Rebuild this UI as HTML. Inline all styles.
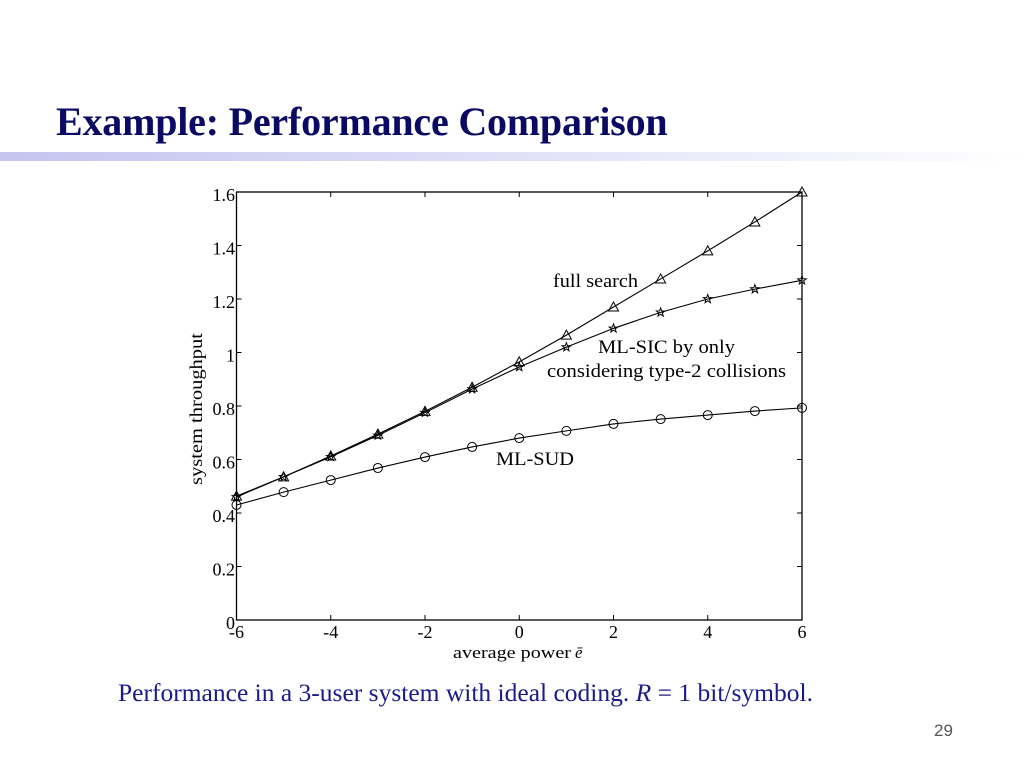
<!DOCTYPE html>
<html><head><meta charset="utf-8"><style>
body{margin:0;width:1024px;height:768px;background:#fff;position:relative;overflow:hidden;font-family:"Liberation Serif",serif}
.t{position:absolute;white-space:nowrap}
</style></head><body>
<div class="t" style="left:56px;top:98px;font-size:40px;font-weight:bold;color:#0a0a64;letter-spacing:-0.2px">Example: Performance Comparison</div>
<div class="t" style="left:0;top:152px;width:1024px;height:9px;background:linear-gradient(to right,#c4c4f0,#e0e0f8 50%,#ffffff)"></div>
<svg class="t" style="left:0;top:0" width="1024" height="768" font-family="Liberation Serif, serif">
<g id="g"></g>
</svg>
<div class="t" style="left:118px;top:678px;font-size:25.5px;color:#1a1a8c">Performance in a 3-user system with ideal coding. <i>R</i> = 1 bit/symbol.</div>
<div class="t" style="left:934px;top:721px;font-size:17px;color:#555;font-family:'Liberation Sans',sans-serif">29</div>
<script>
const xs=[-6,-5,-4,-3,-2,-1,0,1,2,3,4,5,6];
const fullSearch=[0.463,0.535,0.613,0.695,0.78,0.87,0.965,1.065,1.17,1.275,1.38,1.488,1.6];
const mlSic=[0.46,0.535,0.61,0.69,0.775,0.863,0.946,1.02,1.09,1.15,1.2,1.237,1.27];
const mlSud=[0.43,0.478,0.523,0.568,0.609,0.647,0.68,0.707,0.733,0.751,0.766,0.781,0.793];
const xTicks=[-6,-4,-2,0,2,4,6];
const yTicks=[0,0.2,0.4,0.6,0.8,1,1.2,1.4,1.6];
const yLabels=["0","0.2","0.4","0.6","0.8","1","1.2","1.4","1.6"];
const L=236.5,R=802,T=192,B=620;
const X=v=>L+(v+6)/12*(R-L), Y=v=>B-v/1.6*(B-T);
const g=document.getElementById('g');const NS='http://www.w3.org/2000/svg';
function mk(t,a,name){const e=document.createElementNS(NS,t);for(const k in a)e.setAttribute(k,a[k]);


g.appendChild(e);return e;}
mk('rect',{x:L,y:T,width:R-L,height:B-T,fill:'none',stroke:'#000','stroke-width':1.3},'plot-frame');
xTicks.forEach((v,i)=>{mk('line',{x1:X(v),x2:X(v),y1:B,y2:B-5,stroke:'#000'},'x-tick');mk('line',{x1:X(v),x2:X(v),y1:T,y2:T+5,stroke:'#000'},'x-tick-top');
const t=mk('text',{x:X(v),y:B+18,'font-size':18,'text-anchor':'middle'},'x-tick-label');t.textContent=v;});
yTicks.forEach((v,i)=>{mk('line',{x1:L,x2:L+5,y1:Y(v),y2:Y(v),stroke:'#000'},'y-tick');mk('line',{x1:R,x2:R-5,y1:Y(v),y2:Y(v),stroke:'#000'},'y-tick-right');
const t=mk('text',{x:L-1.5,y:Y(v)+9,'font-size':18,'text-anchor':'end'},'y-tick-label');t.textContent=yLabels[i];});
function series(d,name,marker){mk('polyline',{points:xs.map((x,i)=>X(x)+','+Y(d[i])).join(' '),fill:'none',stroke:'#000','stroke-width':1.1},name+'-line');
xs.forEach((x,i)=>{const cx=X(x),cy=Y(d[i]);
if(marker==='o')mk('circle',{cx,cy,r:4.5,fill:'none',stroke:'#000'},name+'-point');
else if(marker==='^')mk('polygon',{points:`${cx},${cy-5} ${cx-5},${cy+4} ${cx+5},${cy+4}`,fill:'none',stroke:'#000'},name+'-point');
else{let p=[];for(let k=0;k<10;k++){const r=k%2?1.8:4.5,a=-Math.PI/2+k*Math.PI/5;p.push((cx+r*Math.cos(a))+','+(cy+r*Math.sin(a)));}
mk('polygon',{points:p.join(' '),fill:'none',stroke:'#000'},name+'-point');}});}
series(mlSud,'ml-sud','o');series(mlSic,'ml-sic','*');series(fullSearch,'full-search','^');
function txt(x,y,s,name,extra){const t=mk('text',Object.assign({x,y,'font-size':19,lengthAdjust:'spacingAndGlyphs'},extra||{}),name);t.textContent=s;return t;}
txt(553,287,'full search','full-search-label',{textLength:85});
txt(598,353,'ML-SIC by only','ml-sic-label',{textLength:137});
txt(547,377,'considering type-2 collisions','ml-sic-label-2',{textLength:239});
txt(496,465,'ML-SUD','ml-sud-label',{textLength:78});
txt(453,658,'average power','x-axis-title',{textLength:118,'font-size':17});
txt(575,658,'e\u0304','x-axis-var',{'font-size':17,'font-style':'italic'});
txt(0,0,'system throughput','y-axis-title',{'font-size':18,'text-anchor':'middle',textLength:152,transform:'translate(202,409) rotate(-90)'});
</script>
</body></html>
